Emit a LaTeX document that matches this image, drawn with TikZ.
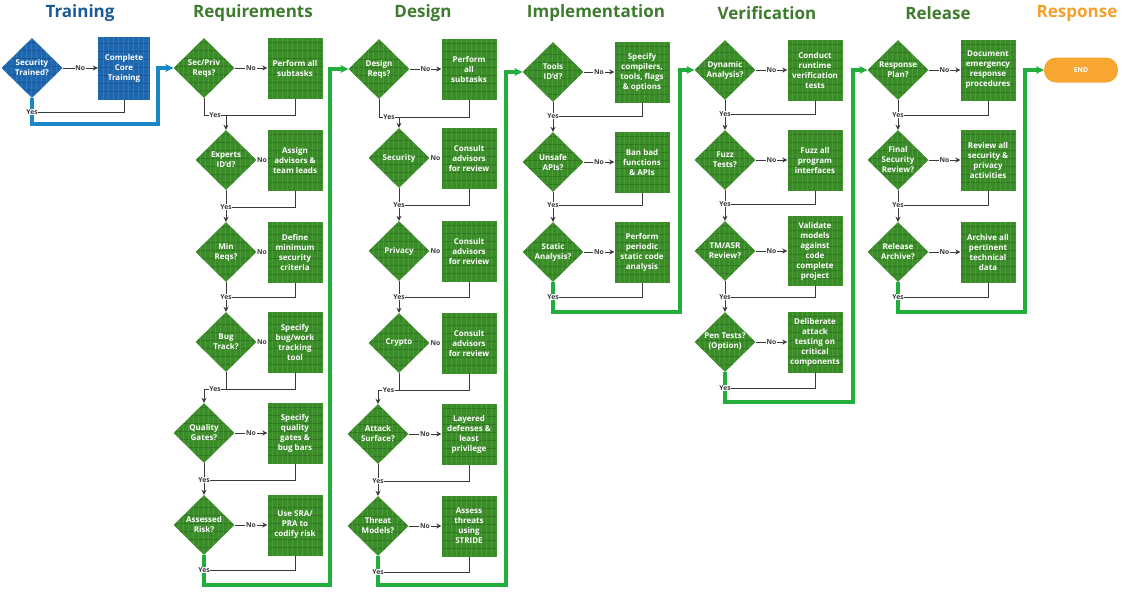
\documentclass[tikz,border=0pt]{standalone}
\usepackage{fontspec}
\setmainfont{Open Sans}
\usetikzlibrary{shapes.geometric,arrows.meta,calc}

\definecolor{sdlgreen}{HTML}{3A8C29}
\definecolor{tilegreen}{HTML}{5AA641}
\definecolor{sdlblue}{HTML}{1E66AE}
\definecolor{tileblue}{HTML}{3A86CC}
\definecolor{flowgreen}{HTML}{22AE3C}
\definecolor{flowblue}{HTML}{1A88C6}
\definecolor{hdrblue}{HTML}{1A5A98}
\definecolor{hdrgreen}{HTML}{3E7B2E}
\definecolor{hdrorange}{HTML}{F4A12B}
\definecolor{endorange}{HTML}{F7A630}
\definecolor{linegray}{HTML}{3A3A3A}

\newcommand{\boxfont}{\fontsize{8}{10}\selectfont\bfseries}
\newcommand{\lblfont}{\fontsize{6.8}{7}\selectfont\bfseries}

\tikzset{
  tiles/.style={path picture={
      \foreach \k in {1,...,14}
        \draw[#1,line width=0.6pt,opacity=0.55] ([xshift=\k*5pt]path picture bounding box.south west) -- ([xshift=\k*5pt]path picture bounding box.north west);
      \foreach \k in {1,...,9}
        \draw[black,line width=0.5pt,opacity=0.15] ([yshift=\k*8pt]path picture bounding box.south west) -- ([yshift=\k*8pt]path picture bounding box.south east);
    }},
  dec/.style={diamond, minimum width=61pt, minimum height=60pt, inner sep=0pt,
    fill=sdlgreen, tiles=tilegreen, text=white, font=\boxfont, align=center},
  task/.style={rectangle, minimum width=55pt, minimum height=61pt, inner sep=1pt,
    fill=sdlgreen, tiles=tilegreen, text=white, font=\boxfont, align=center},
  hdr/.style={font=\fontsize{17}{20}\selectfont\bfseries, text=hdrgreen},
  flow/.style={draw=linegray, line width=0.8pt},
  bigflow/.style={draw=flowgreen, line width=3.2pt, -{Stealth[length=8pt,width=8pt]}},
  nolbl/.style={font=\lblfont, text=linegray, fill=white, inner sep=0.8pt},
  yeslbl/.style={font=\lblfont, text=linegray, fill=white, inner sep=0.8pt},
  >={Stealth[length=5pt,width=5pt]}
}

\begin{document}
\begin{tikzpicture}[x=1pt,y=-1pt]
    \newcommand{\yesjoin}[4]{ % #1: decision, #2: task, #3: next decision, #4: y of junction
      \coordinate (#1j) at (#3.north |- 0,#4);
      \draw[flow] (#1.south) |- (#1j);
      \draw[flow] (#2.south) |- (#1j);
      \draw[flow,->] (#1j) -- (#3.north);
      \node[yeslbl] at ($(#1.south |- #1j)!0.5!(#1j)$) {Yes};
    }
    \newcommand{\lastjoin}[6]{ % #1: decision, #2: task, #3: next, #4: y of yes, #5: y of bottom, #6: x of riser
      \draw[bigflow] (#1.south) |- (#6,#5) |- (#3.west);
      \coordinate (#1j) at (#1.south |- 0,#4);
      \draw[flow] (#2.south) |- (#1j);
      \node[yeslbl] at (#1j) {Yes};
    }

    \useasboundingbox (0,0) rectangle (1125,598);

    %phase headers
    \node[hdr, text=hdrblue] (hTrain) at (80,13) {Training};
    \node[hdr] (hReq) at (253,13) {Requirements};
    \node[hdr] (hDes) at (423,13) {Design};
    \node[hdr] (hImp) at (596,13) {Implementation};
    \node[hdr] (hVer) at (767,13) {Verification};
    \node[hdr] (hRel) at (938,13) {Release};
    \node[hdr, text=hdrorange] (hResp) at (1077,13) {Response};

    %training
    \node[dec, fill=sdlblue, tiles=tileblue] (tq) at (32,68) {Security\\Trained?};
    \node[task, fill=sdlblue, tiles=tileblue, minimum width=52pt, minimum height=63pt] (tt) at (124,68) {Complete\\Core\\Training};

    %requirements
    \node[dec] (r1) at (204,68) {Sec/Priv\\Reqs?};
    \node[task] (r1t) at (295,68) {Perform all\\subtasks};
    \node[dec] (r2) at (226,160) {Experts\\ID'd?};
    \node[task] (r2t) at (295,160) {Assign\\advisors \&\\team leads};
    \node[dec] (r3) at (226,252) {Min\\Reqs?};
    \node[task] (r3t) at (295,252) {Define\\minimum\\security\\criteria};
    \node[dec] (r4) at (226,342) {Bug\\Track?};
    \node[task] (r4t) at (295,342) {Specify\\bug/work\\tracking\\tool};
    \node[dec] (r5) at (204,433) {Quality\\Gates?};
    \node[task] (r5t) at (295,433) {Specify\\quality\\gates \&\\bug bars};
    \node[dec] (r6) at (204,525) {Assessed\\Risk?};
    \node[task] (r6t) at (295,525) {Use SRA/\\PRA to\\codify risk};

    %design
    \node[dec] (d1) at (379,69) {Design\\Reqs?};
    \node[task] (d1t) at (469,69) {Perform\\all\\subtasks};
    \node[dec] (d2) at (399,158) {Security};
    \node[task] (d2t) at (469,158) {Consult\\advisors\\for review};
    \node[dec] (d3) at (399,251) {Privacy};
    \node[task] (d3t) at (469,251) {Consult\\advisors\\for review};
    \node[dec] (d4) at (399,343) {Crypto};
    \node[task] (d4t) at (469,343) {Consult\\advisors\\for review};
    \node[dec] (d5) at (378,434) {Attack\\Surface?};
    \node[task] (d5t) at (469,434) {Layered\\defenses \&\\least\\privilege};
    \node[dec] (d6) at (378,526) {Threat\\Models?};
    \node[task] (d6t) at (469,526) {Assess\\threats\\using\\STRIDE};

    %implementation
    \node[dec] (i1) at (553,72) {Tools\\ID'd?};
    \node[task] (i1t) at (642,72) {Specify\\compilers,\\tools, flags\\\& options};
    \node[dec] (i2) at (553,162) {Unsafe\\APIs?};
    \node[task] (i2t) at (642,162) {Ban bad\\functions\\\& APIs};
    \node[dec] (i3) at (553,252) {Static\\Analysis?};
    \node[task] (i3t) at (642,252) {Perform\\periodic\\static code\\analysis};

    %verification
    \node[dec] (v1) at (725,70) {Dynamic\\Analysis?};
    \node[task] (v1t) at (815,70) {Conduct\\runtime\\verification\\tests};
    \node[dec] (v2) at (725,160) {Fuzz\\Tests?};
    \node[task] (v2t) at (815,160) {Fuzz all\\program\\interfaces};
    \node[dec] (v3) at (725,251) {TM/ASR\\Review?};
    \node[task, minimum height=70pt] (v3t) at (815,251) {Validate\\models\\against\\code\\complete\\project};
    \node[dec] (v4) at (725,342) {Pen Tests?\\(Option)};
    \node[task] (v4t) at (815,342) {Deliberate\\attack\\testing on\\critical\\components};

    %release
    \node[dec] (s1) at (898,70) {Response\\Plan?};
    \node[task] (s1t) at (988,70) {Document\\emergency\\response\\procedures};
    \node[dec] (s2) at (898,160) {Final\\Security\\Review?};
    \node[task] (s2t) at (988,160) {Review all\\security \&\\privacy\\activities};
    \node[dec] (s3) at (898,252) {Release\\Archive?};
    \node[task] (s3t) at (988,252) {Archive all\\pertinent\\technical\\data};

    %response
    \node[rectangle, rounded corners=12pt, minimum width=74pt, minimum height=25pt, fill=endorange,
      text=white, font=\fontsize{6.8}{7}\selectfont\bfseries] (fin) at (1081,70) {END};

    %no branches
    \draw[flow,->] (tq.east) -- node[nolbl]{No} (tt.west);
    \foreach \d in {r1,r5,r6,d1,d5,d6,i1,i2,i3,v1,v2,v3,v4,s1,s2,s3}
      \draw[flow,->] (\d.east) -- node[nolbl]{No} (\d t.west);
    \foreach \d in {r2,r3,r4,d2,d3,d4}
      \draw[flow] (\d.east) -- node[nolbl]{No} (\d t.west);

    %yes branches
    \draw[bigflow, draw=flowblue] (tq.south) |- (158,124) |- (r1.west);
    \draw[flow] (tt.south) |- (tq.south |- 0,112);
    \node[yeslbl] at (tq.south |- 0,112) {Yes};
    \yesjoin{r1}{r1t}{r2}{115}
    \yesjoin{r2}{r2t}{r3}{207}
    \yesjoin{r3}{r3t}{r4}{297}
    \yesjoin{r4}{r4t}{r5}{389}
    \yesjoin{r5}{r5t}{r6}{480}
    \lastjoin{r6}{r6t}{d1}{570}{585}{330}
    \yesjoin{d1}{d1t}{d2}{117}
    \yesjoin{d2}{d2t}{d3}{205}
    \yesjoin{d3}{d3t}{d4}{297}
    \yesjoin{d4}{d4t}{d5}{390}
    \yesjoin{d5}{d5t}{d6}{481}
    \lastjoin{d6}{d6t}{i1}{572}{585}{506}
    \yesjoin{i1}{i1t}{i2}{116}
    \yesjoin{i2}{i2t}{i3}{205}
    \lastjoin{i3}{i3t}{v1}{297}{312}{680}
    \yesjoin{v1}{v1t}{v2}{114}
    \yesjoin{v2}{v2t}{v3}{204}
    \yesjoin{v3}{v3t}{v4}{297}
    \lastjoin{v4}{v4t}{s1}{388}{402}{853}
    \yesjoin{s1}{s1t}{s2}{115}
    \yesjoin{s2}{s2t}{s3}{205}
    \lastjoin{s3}{s3t}{fin}{297}{312}{1025}
\end{tikzpicture}
\end{document}
